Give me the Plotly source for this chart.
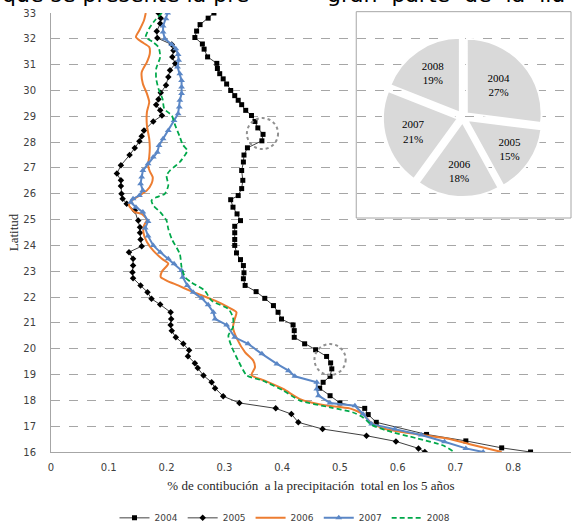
import plotly.graph_objects as go

# ---------------- data ----------------
lat_2004 = [33.0, 32.8, 32.55, 32.3, 32.05, 31.8, 31.6, 31.3, 31.05, 30.85, 30.65, 30.45, 30.25, 30.0,
            29.8, 29.62, 29.45, 29.23, 29.03, 28.8, 28.55, 28.3, 28.05, 27.78, 27.5, 27.23, 26.9, 26.52,
            26.2, 25.93, 25.77, 25.48, 25.22, 24.96, 24.74, 24.49, 24.23, 24.0, 23.71, 23.45, 23.22,
            22.94, 22.71, 22.45, 22.21, 21.95, 21.67, 21.41, 21.15, 20.92, 20.7, 20.44, 20.19, 19.96,
            19.7, 19.45, 19.22, 18.93, 18.7, 18.47, 18.18, 17.9, 17.69, 17.45, 17.15, 16.68, 16.43,
            16.16, 16.0]
val_2004 = [0.282, 0.272, 0.258, 0.252, 0.249, 0.262, 0.265, 0.271, 0.287, 0.288, 0.292, 0.298, 0.304,
            0.311, 0.318, 0.324, 0.330, 0.337, 0.347, 0.353, 0.358, 0.367, 0.365, 0.340, 0.334, 0.333,
            0.330, 0.332, 0.330, 0.324, 0.311, 0.315, 0.322, 0.328, 0.318, 0.318, 0.318, 0.318, 0.321,
            0.328, 0.333, 0.334, 0.333, 0.336, 0.355, 0.370, 0.385, 0.393, 0.399, 0.419, 0.421, 0.421,
            0.439, 0.458, 0.477, 0.484, 0.486, 0.483, 0.471, 0.465, 0.483, 0.500, 0.543, 0.549, 0.563,
            0.650, 0.718, 0.780, 0.830]

lat_2005 = [33.0, 32.8, 32.59, 32.29, 32.03, 31.78, 31.55, 31.3, 31.04, 30.78, 30.52, 30.2, 29.91, 29.66,
            29.45, 29.23, 29.03, 28.8, 28.45, 28.23, 28.03, 27.77, 27.5, 27.1, 26.78, 26.52, 26.3, 26.0,
            25.81, 25.61, 25.35, 24.96, 24.7, 24.49, 24.23, 23.97, 23.74, 23.48, 23.22, 22.96, 22.73,
            22.45, 22.19, 21.93, 21.71, 21.41, 21.15, 20.92, 20.7, 20.44, 20.19, 19.94, 19.71, 19.44,
            19.25, 18.96, 18.7, 18.47, 18.16, 17.9, 17.69, 17.47, 17.15, 16.89, 16.63, 16.41, 16.14, 16.0]
val_2005 = [0.186, 0.190, 0.189, 0.183, 0.184, 0.209, 0.212, 0.210, 0.215, 0.206, 0.203, 0.199, 0.190,
            0.186, 0.182, 0.189, 0.192, 0.177, 0.161, 0.157, 0.153, 0.145, 0.136, 0.121, 0.114, 0.121,
            0.121, 0.122, 0.124, 0.131, 0.145, 0.151, 0.154, 0.154, 0.155, 0.157, 0.135, 0.142, 0.142,
            0.141, 0.142, 0.155, 0.167, 0.174, 0.189, 0.207, 0.208, 0.207, 0.209, 0.216, 0.229, 0.239,
            0.237, 0.249, 0.254, 0.264, 0.278, 0.284, 0.298, 0.326, 0.389, 0.416, 0.428, 0.470, 0.546,
            0.597, 0.636, 0.647]

lat_2006 = [33.0, 32.72, 32.33, 32.07, 31.88, 31.68, 31.43, 31.1, 30.71, 30.26, 29.88, 29.55, 29.16,
            28.65, 28.13, 27.8, 27.42, 27.1, 26.87, 26.65, 26.39, 26.13, 25.93, 25.74, 25.55, 25.29,
            25.22, 25.0, 24.77, 24.49, 24.13, 23.8, 23.48, 23.29, 22.99, 22.77, 22.64, 22.45, 22.25,
            22.16, 21.86, 21.64, 21.41, 21.15, 20.83, 20.38, 19.86, 19.54, 19.28, 18.98, 18.76, 18.44,
            18.05, 17.82, 17.69, 17.47, 17.17, 16.91, 16.69, 16.5, 16.3, 16.0]
val_2006 = [0.164, 0.161, 0.153, 0.147, 0.157, 0.170, 0.171, 0.166, 0.157, 0.159, 0.166, 0.170, 0.166,
            0.166, 0.170, 0.171, 0.170, 0.168, 0.171, 0.176, 0.174, 0.166, 0.153, 0.140, 0.135, 0.145,
            0.157, 0.166, 0.161, 0.160, 0.166, 0.177, 0.192, 0.203, 0.192, 0.190, 0.200, 0.220, 0.240,
            0.250, 0.284, 0.304, 0.321, 0.318, 0.315, 0.322, 0.336, 0.350, 0.353, 0.347, 0.370, 0.402,
            0.431, 0.471, 0.517, 0.540, 0.552, 0.575, 0.633, 0.690, 0.725, 0.780]

lat_2007 = [33.0, 32.78, 32.5, 32.26, 32.0, 31.78, 31.62, 31.39, 31.17, 30.91, 30.65, 30.39, 30.13,
            29.88, 29.62, 29.36, 29.1, 28.84, 28.45, 28.13, 27.87, 27.61, 27.42, 27.16, 26.9, 26.65,
            26.39, 26.13, 25.93, 25.81, 25.67, 25.48, 25.29, 24.93, 24.67, 24.36, 24.0, 23.74, 23.48,
            23.29, 23.03, 22.77, 22.45, 22.19, 21.95, 21.7, 21.41, 21.15, 20.92, 20.44, 20.19, 19.8,
            19.41, 19.15, 18.93, 18.7, 18.44, 18.18, 17.9, 17.79, 17.47, 17.08, 16.89, 16.66, 16.4,
            16.14, 16.0]
val_2007 = [0.202, 0.199, 0.194, 0.194, 0.197, 0.209, 0.216, 0.220, 0.221, 0.219, 0.223, 0.226, 0.226,
            0.226, 0.223, 0.222, 0.220, 0.213, 0.203, 0.194, 0.187, 0.184, 0.177, 0.168, 0.159, 0.157,
            0.155, 0.159, 0.153, 0.142, 0.138, 0.147, 0.159, 0.168, 0.163, 0.168, 0.177, 0.189, 0.203,
            0.213, 0.226, 0.228, 0.236, 0.246, 0.261, 0.272, 0.281, 0.284, 0.304, 0.318, 0.341, 0.365,
            0.391, 0.411, 0.422, 0.460, 0.460, 0.463, 0.483, 0.526, 0.540, 0.555, 0.595, 0.641, 0.681,
            0.718, 0.748]

lat_2008 = [33.0, 32.72, 32.4, 32.07, 31.88, 31.68, 31.3, 30.84, 30.46, 30.07, 29.68, 29.29, 29.03,
            28.65, 28.2, 27.9, 27.68, 27.5, 27.23, 26.9, 26.71, 26.32, 26.0, 25.87, 25.74, 25.55, 25.29,
            24.96, 24.64, 24.25, 23.67, 23.16, 22.77, 22.57, 22.25, 21.86, 21.54, 21.22, 20.83, 20.51,
            20.06, 19.54, 18.96, 18.76, 18.38, 17.99, 17.73, 17.53, 17.34, 17.05, 16.83, 16.53, 16.25,
            16.0]
val_2008 = [0.192, 0.180, 0.170, 0.164, 0.176, 0.186, 0.189, 0.182, 0.182, 0.186, 0.193, 0.196, 0.209,
            0.215, 0.223, 0.228, 0.236, 0.232, 0.223, 0.206, 0.200, 0.203, 0.197, 0.183, 0.174, 0.177,
            0.189, 0.200, 0.203, 0.209, 0.223, 0.226, 0.232, 0.243, 0.266, 0.278, 0.307, 0.315, 0.315,
            0.307, 0.313, 0.324, 0.339, 0.367, 0.402, 0.431, 0.483, 0.523, 0.540, 0.555, 0.581, 0.633,
            0.679, 0.698]

pie_labels = ["2004", "2005", "2006", "2007", "2008"]
pie_values = [27, 15, 18, 21, 19]

x_ticks = [0, 0.1, 0.2, 0.3, 0.4, 0.5, 0.6, 0.7, 0.8, 0.9]
x_ticktext = ["0", "0.1", "0.2", "0.3", "0.4", "0.5", "0.6", "0.7", "0.8", "0.9"]
y_ticks = list(range(16, 34))

circle_x = [0.366, 0.483]
circle_lat = [28.33, 19.58]

top_text_left = "que se presente la pre"
top_text_right = "gran  parte  de  la  llu"

# ---------------- figure ----------------
fig = go.Figure()

fig.add_trace(go.Scatter(x=val_2004, y=lat_2004, mode="lines+markers", name="2004",
                         line=dict(color="#404040", width=1),
                         marker=dict(symbol="square", size=5, color="black")))
fig.add_trace(go.Scatter(x=val_2005, y=lat_2005, mode="lines+markers", name="2005",
                         line=dict(color="#404040", width=1),
                         marker=dict(symbol="diamond", size=5, color="black")))
fig.add_trace(go.Scatter(x=val_2006, y=lat_2006, mode="lines", name="2006",
                         line=dict(color="#ED7D31", width=2, shape="spline", smoothing=0.6)))
fig.add_trace(go.Scatter(x=val_2007, y=lat_2007, mode="lines+markers", name="2007",
                         line=dict(color="#5B87C6", width=2),
                         marker=dict(symbol="triangle-up", size=6, color="#5B87C6")))
fig.add_trace(go.Scatter(x=val_2008, y=lat_2008, mode="lines", name="2008",
                         line=dict(color="#00A84A", width=1.75, dash="5px,3px", shape="spline",
                                   smoothing=0.6)))

fig.add_trace(go.Pie(labels=pie_labels, values=pie_values, sort=False, direction="clockwise",
                     rotation=0, showlegend=False,
                     marker=dict(colors=["#d9d9d9"] * 5, line=dict(color="white", width=2)),
                     pull=[0.07] * 5,
                     textinfo="label+percent", textposition="inside",
                     insidetextorientation="horizontal",
                     textfont=dict(family="Liberation Serif", size=11, color="black"),
                     hoverinfo="skip",
                     domain=dict(x=[0.638, 0.946], y=[0.58, 0.946])))

# inset box
fig.add_shape(type="rect", xref="paper", yref="paper", x0=0.587, x1=1.0, y0=0.533, y1=1.003,
              line=dict(color="#a6a6a6", width=1), fillcolor="white", layer="between")

# dotted circles
rx, ry = 0.027, 0.6
for cx, cy in zip(circle_x, circle_lat):
    fig.add_shape(type="circle", xref="x", yref="y", x0=cx - rx, x1=cx + rx, y0=cy - ry, y1=cy + ry,
                  line=dict(color="#909090", width=2, dash="dot"), layer="above")

fig.add_annotation(text=top_text_left, xref="paper", yref="paper", x=0, y=1, xanchor="left",
                   yanchor="bottom", xshift=-51, yshift=4, showarrow=False,
                   font=dict(family="DejaVu Sans", size=22, color="black"))
fig.add_annotation(text=top_text_right, xref="paper", yref="paper", x=0, y=1, xanchor="left",
                   yanchor="bottom", xshift=274, yshift=4, showarrow=False,
                   font=dict(family="DejaVu Sans", size=22, color="black"))

fig.update_layout(
    width=574, height=525,
    margin=dict(l=51, r=3, t=13, b=73, autoexpand=False),
    plot_bgcolor="white", paper_bgcolor="white",
    font=dict(family="DejaVu Sans", size=10, color="#404040"),
    legend=dict(orientation="h", x=0.45, xanchor="center", y=-0.15, yanchor="middle",
                font=dict(family="DejaVu Sans", size=9, color="#404040"),
                itemwidth=30, tracegroupgap=0),
    xaxis=dict(range=[0, 0.9], tickvals=x_ticks, ticktext=x_ticktext, showgrid=False,
               showline=True, linecolor="#a6a6a6", linewidth=1, zeroline=False,
               ticks="", ticklabelstandoff=6,
               tickfont=dict(family="DejaVu Sans", size=10, color="#404040"),
               title=dict(text="% de contibución  a la precipitación  total en los 5 años",
                          font=dict(family="Liberation Serif", size=13, color="#262626"),
                          standoff=8)),
    yaxis=dict(range=[16, 33], tickvals=y_ticks, showgrid=True, gridcolor="#a6a6a6",
               griddash="dash", gridwidth=1, showline=True, linecolor="#a6a6a6", linewidth=1,
               zeroline=False, ticks="", ticklabelstandoff=12,
               tickfont=dict(family="DejaVu Sans", size=10, color="#404040"),
               title=dict(text="Latitud", font=dict(family="Liberation Serif", size=13, color="#262626"),
                          standoff=1)),
)

fig.write_html("out.html")
